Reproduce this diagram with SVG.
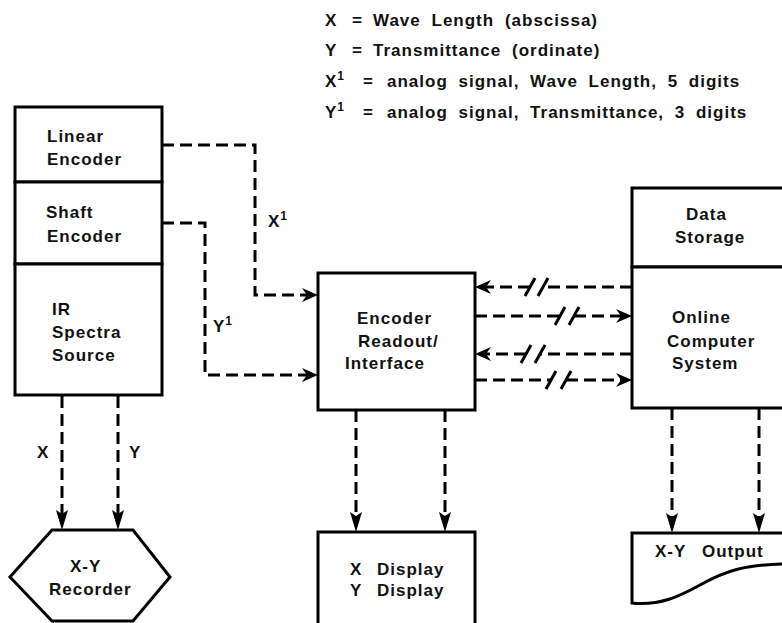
<svg xmlns="http://www.w3.org/2000/svg" width="782" height="623" viewBox="0 0 782 623">
<style>
.box{fill:#fff;stroke:#000;stroke-width:3}
.dash{fill:none;stroke:#000;stroke-width:3;stroke-dasharray:12 6}
.sl{stroke:#000;stroke-width:3;fill:none}
text{font-family:"Liberation Sans",Arial,sans-serif;font-size:17px;font-weight:bold;letter-spacing:1px;fill:#111}
.lg{word-spacing:5px}
</style>
<defs>
<marker id="ah" viewBox="-18 -8 18 16" refX="-6" refY="0" markerWidth="18" markerHeight="16" orient="auto" markerUnits="userSpaceOnUse"><path d="M0,0 L-16,-7 L-11,0 L-16,7 Z" fill="#000"/></marker>
<marker id="av" viewBox="-22 -7 22 14" refX="-6" refY="0" markerWidth="22" markerHeight="14" orient="auto" markerUnits="userSpaceOnUse"><path d="M0,0 L-20,-6 L-16,0 L-20,6 Z" fill="#000"/></marker>
</defs>
<rect width="782" height="623" fill="#fff"/>
<g id="legend">
<text x="325" y="26">X</text><text x="352" y="26">=</text><text class="lg" x="373" y="26">Wave Length (abscissa)</text>
<text x="325" y="56">Y</text><text x="352" y="56">=</text><text class="lg" x="373" y="56">Transmittance (ordinate)</text>
<text x="325" y="87">X<tspan font-size="12" dy="-7">1</tspan></text><text x="363" y="87">=</text><text class="lg" x="387" y="87">analog signal, Wave Length, 5 digits</text>
<text x="325" y="118">Y<tspan font-size="12" dy="-7">1</tspan></text><text x="363" y="118">=</text><text class="lg" x="387" y="118">analog signal, Transmittance, 3 digits</text>
</g>
<g id="linear-encoder"><rect class="box" x="15" y="107" width="147" height="75"/><text x="47" y="142">Linear</text><text x="47" y="165">Encoder</text></g>
<g id="shaft-encoder"><rect class="box" x="15" y="182" width="147" height="82"/><text x="46" y="218">Shaft</text><text x="47" y="242">Encoder</text></g>
<g id="ir-source"><rect class="box" x="15" y="264" width="147" height="131"/><text x="52" y="315">IR</text><text x="52" y="338">Spectra</text><text x="52" y="361">Source</text></g>
<g id="encoder-readout"><rect class="box" x="318" y="273" width="157" height="137"/><text x="357" y="324">Encoder</text><text x="358" y="347">Readout/</text><text x="345" y="369">Interface</text></g>
<g id="data-storage"><rect class="box" x="632" y="188" width="160" height="79"/><text x="686" y="220">Data</text><text x="675" y="243">Storage</text></g>
<g id="online-computer"><rect class="box" x="632" y="267" width="160" height="141"/><text x="672" y="323">Online</text><text x="667" y="347">Computer</text><text x="672" y="369">System</text></g>
<g id="xy-recorder"><polygon class="box" points="52,530 133,530 170,577 133,621 52,621 10,577"/><text x="70" y="572">X-Y</text><text x="49" y="595">Recorder</text></g>
<g id="display"><rect class="box" x="318" y="532" width="157" height="100"/><text x="350" y="575">X</text><text x="377" y="575">Display</text><text x="350" y="596">Y</text><text x="377" y="596">Display</text></g>
<g id="xy-output"><path class="box" d="M790,533 H632 V603 C660,606 680,596 700,585 C725,571 745,564 790,564"/><text x="655" y="557">X-Y</text><text x="702" y="557">Output</text></g>
<g id="connectors">
<path class="dash" d="M162,145 H255 V295 H312" marker-end="url(#ah)"/>
<path class="dash" d="M162,223 H205 V375 H312" marker-end="url(#ah)"/>
<text x="268" y="227">X<tspan font-size="12" dy="-7">1</tspan></text>
<text x="213" y="332">Y<tspan font-size="12" dy="-7">1</tspan></text>
<path class="dash" d="M632,287 H543"/><path class="dash" d="M530,287 H481" marker-end="url(#ah)"/>
<path class="sl" d="M525,296 L535,278 M538,296 L548,278"/>
<path class="dash" d="M475,316 H560"/><path class="dash" d="M574,316 H626" marker-end="url(#ah)"/>
<path class="sl" d="M555,325 L565,307 M569,325 L579,307"/>
<path class="dash" d="M632,354 H540"/><path class="dash" d="M526,354 H481" marker-end="url(#ah)"/>
<path class="sl" d="M521,363 L531,345 M535,363 L545,345"/>
<path class="dash" d="M475,380 H551"/><path class="dash" d="M566,380 H626" marker-end="url(#ah)"/>
<path class="sl" d="M546,389 L556,371 M561,389 L571,371"/>
<path class="dash" d="M62,396 V524" marker-end="url(#av)"/>
<path class="dash" d="M118,396 V524" marker-end="url(#av)"/>
<text x="37" y="458">X</text><text x="129" y="458">Y</text>
<path class="dash" d="M356,410 V526" marker-end="url(#av)"/>
<path class="dash" d="M445,410 V526" marker-end="url(#av)"/>
<path class="dash" d="M672,408 V527" marker-end="url(#av)"/>
<path class="dash" d="M759,408 V527" marker-end="url(#av)"/>
</g>
</svg>
